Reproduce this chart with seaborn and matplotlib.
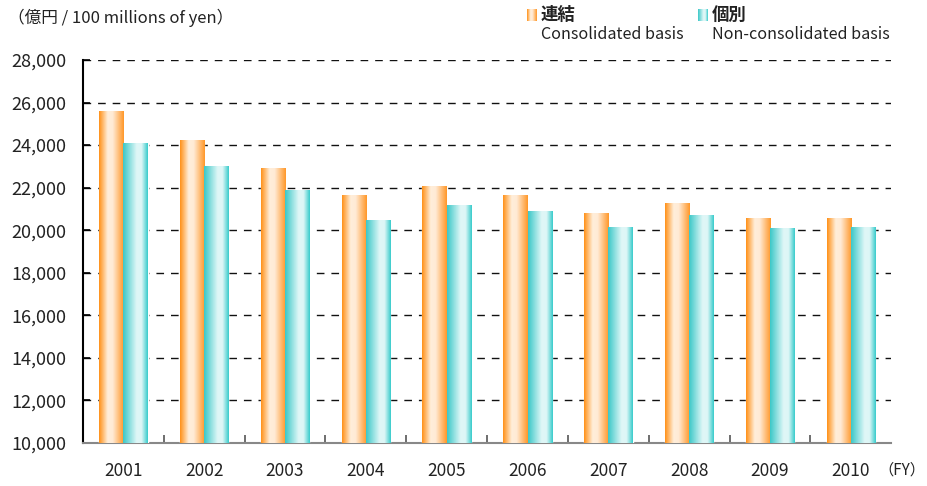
import matplotlib
matplotlib.use('Agg')
import matplotlib.pyplot as plt
import numpy as np
import pandas as pd
import seaborn as sns
from matplotlib.colors import LinearSegmentedColormap
from matplotlib.ticker import FuncFormatter, MultipleLocator

# data (100 millions of yen)
years = ['2001', '2002', '2003', '2004', '2005', '2006', '2007', '2008', '2009', '2010']
consolidated = [25580, 24230, 22900, 21650, 22050, 21610, 20800, 21270, 20530, 20530]
non_consolidated = [24080, 22990, 21870, 20480, 21150, 20860, 20150, 20710, 20060, 20150]
series_labels = ['連結', '個別']
series_english = ['Consolidated basis', 'Non-consolidated basis']

df = pd.DataFrame({
    'year': years * 2,
    'value': consolidated + non_consolidated,
    'basis': [series_labels[0]] * len(years) + [series_labels[1]] * len(years),
})

sns.set_theme(style='white')
plt.rcParams['font.family'] = ['Noto Sans CJK JP', 'DejaVu Sans']

# horizontal gradients like the original bars
orange_cmap = LinearSegmentedColormap.from_list(
    'orange', [(0, '#FF921A'), (0.35, '#FFEEDA'), (0.55, '#FFEBD6'), (1, '#FF982A')])
cyan_cmap = LinearSegmentedColormap.from_list(
    'cyan', [(0, '#3CC8C8'), (0.55, '#DFF7F7'), (0.75, '#DDF6F6'), (1, '#3ACCCC')])
grad = np.linspace(0, 1, 64).reshape(1, -1)

fig = plt.figure(figsize=(9.28, 4.86), dpi=100)
ax = fig.add_axes([0.0894, 0.0885, 0.871, 0.788])

sns.barplot(data=df, x='year', y='value', hue='basis', width=0.6,
            palette=['#FF982A', '#3ACCCC'], ax=ax, legend=False, zorder=3)

n = len(years)
for i, bar in enumerate(ax.patches):
    cmap = orange_cmap if i < n else cyan_cmap
    x0 = bar.get_x()
    w = bar.get_width()
    h = bar.get_height()
    ax.imshow(grad, cmap=cmap, aspect='auto', extent=(x0, x0 + w, 0, h),
              zorder=4, interpolation='bilinear')

ax.set_xlim(-0.5, n - 0.5)
ax.set_ylim(10000, 28000)
ax.yaxis.set_major_locator(MultipleLocator(2000))
ax.yaxis.set_major_formatter(FuncFormatter(lambda v, p: f'{int(v):,}'))
ax.grid(axis='y', color='#111111', linestyle=(0, (5.5, 5)), linewidth=1, zorder=1)
ax.set_axisbelow(True)

for side in ['top', 'right']:
    ax.spines[side].set_visible(False)
ax.spines['left'].set_color('black')
ax.spines['left'].set_linewidth(1.5)
ax.spines['bottom'].set_color('#888888')
ax.spines['bottom'].set_linewidth(1.5)

ax.set_xlabel('')
ax.set_ylabel('')
ax.tick_params(axis='y', direction='in', length=5, width=1.2, color='black',
               labelsize=13, pad=12, left=True)
ax.tick_params(axis='x', which='major', length=0, labelsize=12.5, pad=14)
ax.set_xticks(np.arange(0.5, n - 0.5), minor=True)
ax.tick_params(axis='x', which='minor', direction='in', length=6, width=1.2,
               color='#555555', bottom=True)
for lbl in ax.get_yticklabels() + ax.get_xticklabels():
    lbl.set_color('#222222')

# texts around the plot
fig.text(0.009, 0.963, '（億円 / 100 millions of yen）', fontsize=12, color='#222222',
         va='center', ha='left')
fig.text(0.997, 0.033, '（FY）', fontsize=11, color='#222222', va='center', ha='right')

# hand made legend
legend_x = [0.568, 0.752]
for x, cmap, jp, en in zip(legend_x, [orange_cmap, cyan_cmap], series_labels, series_english):
    pax = fig.add_axes([x, 0.957, 0.0105, 0.024])
    pax.imshow(grad, cmap=cmap, aspect='auto', interpolation='bilinear')
    pax.axis('off')
    fig.text(x + 0.015, 0.969, jp, fontsize=12.5, color='#222222', va='center', ha='left',
             fontweight='bold')
    fig.text(x + 0.015, 0.928, en, fontsize=11.6, color='#222222', va='center', ha='left')

fig.savefig('out.png', dpi=100)
